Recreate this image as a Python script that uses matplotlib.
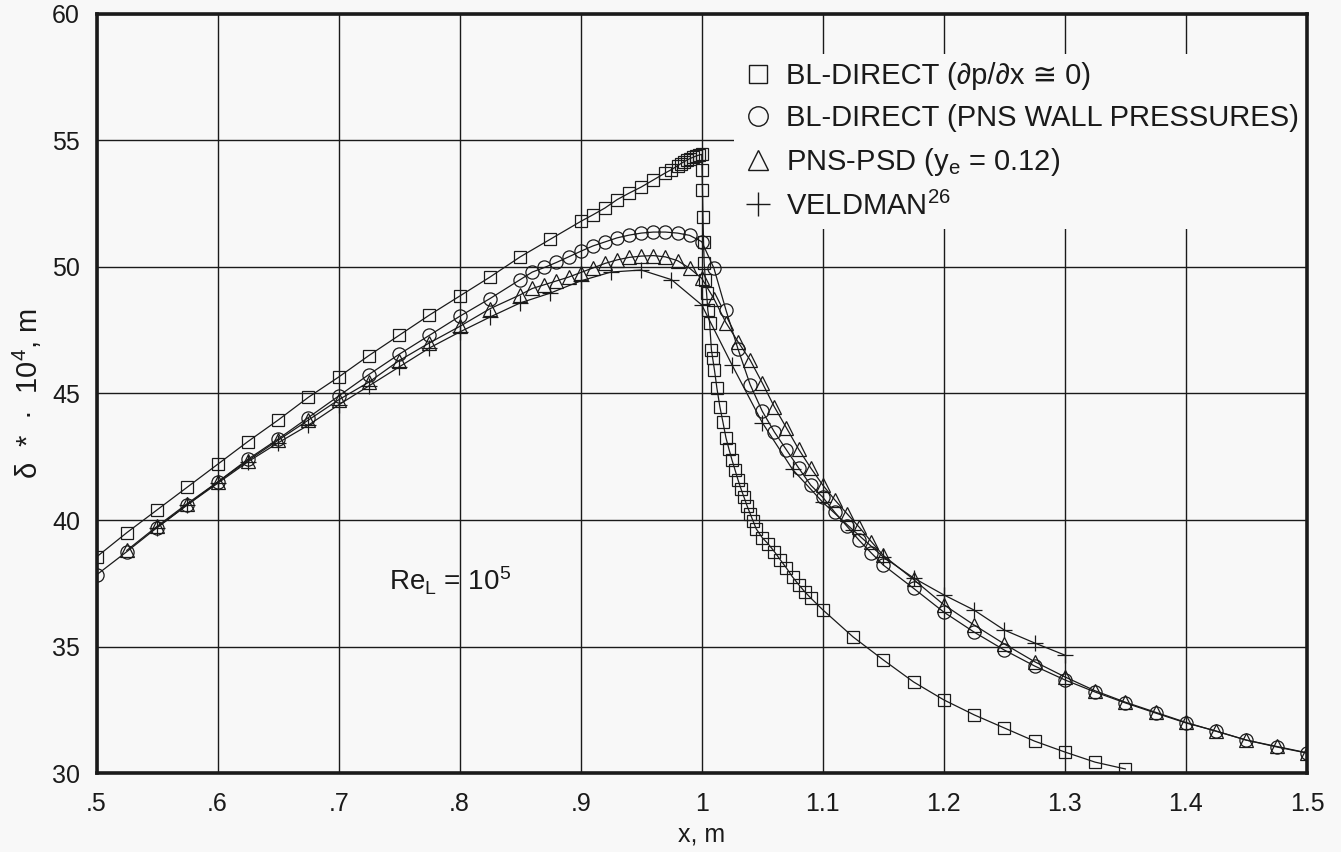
import matplotlib
matplotlib.use("Agg")
import matplotlib.pyplot as plt
from matplotlib.lines import Line2D

plt.rcParams['font.family'] = ['Liberation Sans', 'DejaVu Sans']
plt.rcParams['mathtext.fontset'] = 'custom'
plt.rcParams['mathtext.rm'] = 'Liberation Sans'
plt.rcParams['mathtext.it'] = 'Liberation Sans'

# BL-DIRECT, zero pressure gradient (squares)
x_sq = [0.5, 0.525, 0.55, 0.575, 0.6, 0.625, 0.65, 0.675, 0.7, 0.725, 0.75, 0.775,
        0.8, 0.825, 0.85, 0.875, 0.9, 0.91, 0.92, 0.93, 0.94, 0.95, 0.96, 0.97,
        0.975, 0.98, 0.9825, 0.985, 0.9875, 0.99, 0.9925, 0.995, 0.9975, 1.0,
        1.0003, 1.0006, 1.001, 1.0015, 1.002, 1.003, 1.004, 1.005, 1.0065, 1.008,
        1.009, 1.0105, 1.0125, 1.015, 1.0175, 1.02, 1.0225, 1.025, 1.0275, 1.03,
        1.0325, 1.035, 1.0375, 1.04, 1.0425, 1.045, 1.05, 1.055, 1.06, 1.065, 1.07,
        1.075, 1.08, 1.085, 1.09, 1.1, 1.125, 1.15, 1.175, 1.2, 1.225, 1.25, 1.275,
        1.3, 1.325, 1.35]
y_sq = [38.54, 39.5, 40.4, 41.3, 42.2, 43.1, 43.95, 44.85, 45.65, 46.5, 47.3, 48.1,
        48.85, 49.6, 50.4, 51.1, 51.8, 52.06, 52.33, 52.66, 52.92, 53.16, 53.44, 53.72,
        53.85, 54.0, 54.08, 54.15, 54.22, 54.28, 54.33, 54.38, 54.42, 54.45,
        53.83, 53.04, 51.98, 50.99, 50.16, 49.49, 48.97, 48.3, 47.79, 46.72,
        46.4, 45.93, 45.22, 44.47, 43.87, 43.25, 42.8, 42.37, 41.98, 41.58,
        41.22, 40.89, 40.55, 40.25, 39.95, 39.65, 39.3, 39.05, 38.75, 38.42, 38.1,
        37.75, 37.45, 37.17, 36.92, 36.45, 35.38, 34.47, 33.6, 32.89, 32.3, 31.78, 31.26,
        30.83, 30.43, 30.16]

# BL-DIRECT with PNS wall pressures (circles)
x_ci = [0.5, 0.525, 0.55, 0.575, 0.6, 0.625, 0.65, 0.675, 0.7, 0.725, 0.75, 0.775,
        0.8, 0.825, 0.85, 0.86, 0.87, 0.88, 0.89, 0.9, 0.91, 0.92, 0.93, 0.94, 0.95,
        0.96, 0.97, 0.98, 0.99, 1.0, 1.01, 1.02, 1.03, 1.04, 1.05, 1.06, 1.07, 1.08,
        1.09, 1.1, 1.11, 1.12, 1.13, 1.14, 1.15, 1.175, 1.2, 1.225, 1.25, 1.275, 1.3,
        1.325, 1.35, 1.375, 1.4, 1.425, 1.45, 1.475, 1.5]
y_ci = [37.83, 38.75, 39.7, 40.6, 41.5, 42.4, 43.2, 44.05, 44.9, 45.75, 46.55, 47.3,
        48.05, 48.75, 49.5, 49.8, 49.98, 50.18, 50.4, 50.62, 50.83, 50.99, 51.15, 51.26, 51.34,
        51.38, 51.38, 51.34, 51.25, 51.0, 49.96, 48.3, 46.75, 45.35, 44.3, 43.48, 42.77, 42.06,
        41.38, 40.9, 40.3, 39.75, 39.2, 38.7, 38.22, 37.3, 36.36, 35.57, 34.86, 34.23, 33.68,
        33.2, 32.77, 32.37, 31.98, 31.66, 31.3, 31.03, 30.79]

# PNS-PSD (triangles)
x_tr = [0.525, 0.55, 0.575, 0.6, 0.625, 0.65, 0.675, 0.7, 0.725, 0.75, 0.775,
        0.8, 0.825, 0.85, 0.86, 0.87, 0.88, 0.89, 0.9, 0.91, 0.92, 0.93, 0.94, 0.95,
        0.96, 0.97, 0.98, 0.99, 1.0, 1.01, 1.02, 1.03, 1.04, 1.05, 1.06, 1.07, 1.08,
        1.09, 1.1, 1.11, 1.12, 1.13, 1.14, 1.15, 1.175, 1.2, 1.225, 1.25, 1.275, 1.3,
        1.325, 1.35, 1.375, 1.4, 1.425, 1.45, 1.475, 1.5]
y_tr = [38.8, 39.75, 40.65, 41.5, 42.35, 43.15, 43.95, 44.75, 45.45, 46.3, 47.0,
        47.65, 48.35, 48.9, 49.15, 49.3, 49.45, 49.6, 49.78, 49.96, 50.14, 50.28, 50.38, 50.43,
        50.45, 50.4, 50.25, 49.95, 49.55, 48.75, 47.8, 47.04, 46.32, 45.42, 44.47, 43.64, 42.8,
        42.06, 41.38, 40.79, 40.25, 39.72, 39.15, 38.6, 37.65, 36.65, 35.85, 35.1, 34.4, 33.8,
        33.25, 32.8, 32.4, 32.0, 31.65, 31.3, 31.05, 30.8]

# Veldman (plus signs)
x_vd = [0.55, 0.575, 0.6, 0.625, 0.65, 0.675, 0.7, 0.725, 0.75, 0.775, 0.8, 0.825,
        0.85, 0.875, 0.9, 0.925, 0.95, 0.975, 1.0, 1.025, 1.05, 1.075, 1.1, 1.125,
        1.15, 1.175, 1.2, 1.225, 1.25, 1.275, 1.3]
y_vd = [39.7, 40.6, 41.45, 42.3, 43.05, 43.75, 44.55, 45.3, 46.05, 46.8, 47.43, 48.02,
        48.58, 48.97, 49.45, 49.8, 49.88, 49.5, 48.5, 46.13, 43.85, 42.0, 40.7, 39.6,
        38.54, 37.71, 37.04, 36.44, 35.65, 35.14, 34.66]

xticks = [0.5, 0.6, 0.7, 0.8, 0.9, 1.0, 1.1, 1.2, 1.3, 1.4, 1.5]
xticklabels = ['.5', '.6', '.7', '.8', '.9', '1', '1.1', '1.2', '1.3', '1.4', '1.5']
yticks = [30, 35, 40, 45, 50, 55, 60]

labels = ['BL-DIRECT (∂p/∂x ≅ 0)',
          'BL-DIRECT (PNS WALL PRESSURES)',
          r'PNS-PSD (y$_\mathregular{e}$ = 0.12)',
          r'VELDMAN$^\mathregular{26}$']

bg = '#f8f8f8'
ink = '#1a1a1a'

fig = plt.figure(figsize=(13.41, 8.52), dpi=100, facecolor=bg)
ax = fig.add_axes([0.072, 0.0927, 0.9026, 0.8909], facecolor=bg)

common = dict(color=ink, lw=0.9, mfc='none', mec=ink, mew=0.9)
ax.plot(x_sq, y_sq, marker='s', ms=8.5, **common)
ax.plot(x_ci, y_ci, marker='o', ms=9.5, **common)
ax.plot(x_tr, y_tr, marker='^', ms=9.5, **common)
ax.plot(x_vd, y_vd, marker='+', ms=11, **common)

ax.set_xlim(0.5, 1.5)
ax.set_ylim(30, 60)
ax.set_xticks(xticks)
ax.set_xticklabels(xticklabels)
ax.set_yticks(yticks)
ax.tick_params(length=0, labelsize=18, colors=ink)
ax.tick_params(axis='x', pad=14)
ax.tick_params(axis='y', pad=12)
ax.grid(True, color=ink, lw=1.0)
ax.set_axisbelow(True)
for s in ax.spines.values():
    s.set_linewidth(2.6)
    s.set_color(ink)
    s.set_zorder(6)

ax.set_xlabel('x, m', fontsize=18, color=ink, labelpad=4)
ax.set_ylabel(r'δ  *  ·  10$^\mathregular{4}$, m', fontsize=21, color=ink, labelpad=6)

ax.text(0.742, 37.2, r'Re$_\mathregular{L}$ = 10$^\mathregular{5}$',
        fontsize=20, color=ink, va='baseline')

handles = [Line2D([], [], ls='none', marker=m, ms=ms, mfc='none', mec=ink, mew=1.0)
           for m, ms in [('s', 13), ('o', 14), ('^', 14), ('+', 17)]]
leg = ax.legend(handles, labels, loc='upper left', bbox_to_anchor=(0.515, 0.967),
                fontsize=21, frameon=True, facecolor=bg, edgecolor='none',
                framealpha=1.0, handlelength=1.0, handletextpad=0.45,
                labelspacing=0.47, borderpad=0.3, fancybox=False)
for t in leg.get_texts():
    t.set_color(ink)

fig.savefig('out.png', dpi=100, facecolor=bg)
